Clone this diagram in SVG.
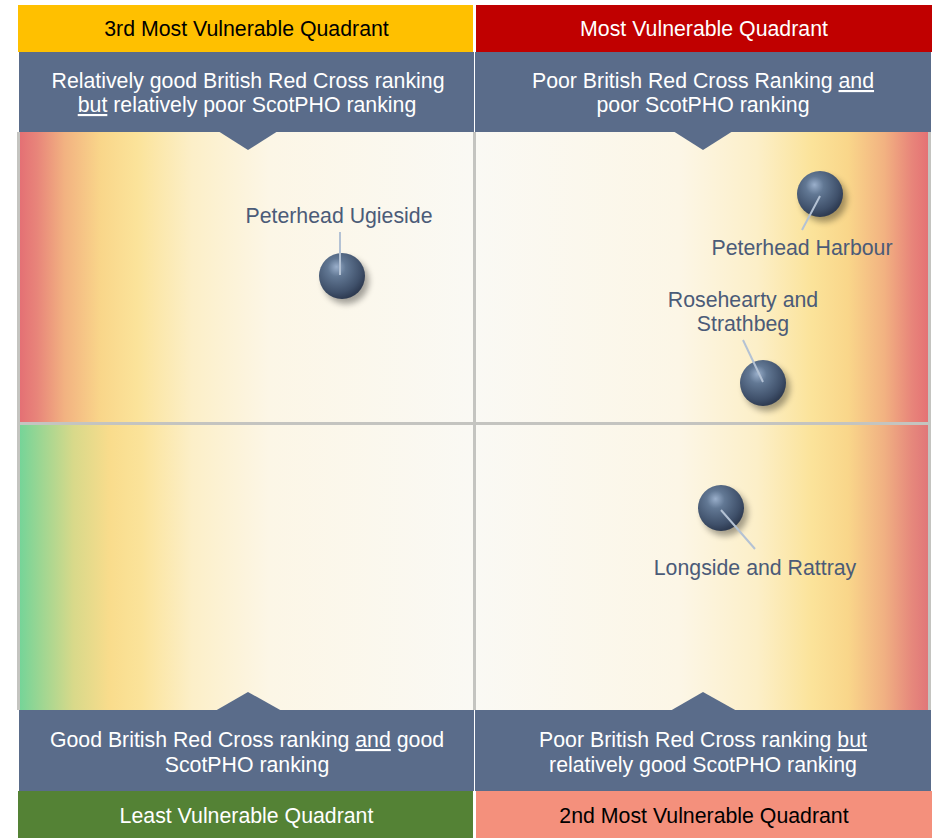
<svg xmlns="http://www.w3.org/2000/svg" width="937" height="838" viewBox="0 0 937 838">
  <style>
    .t { font-family: "Liberation Sans", Arial, sans-serif; font-size: 21.3px; text-anchor: middle; }
    .dark { fill: #000000; }
    .white { fill: #FFFFFF; }
    .lbl { fill: #4B5B78; }
    .band { fill: #5A6C8A; }
    .ptr { stroke: #B4C2D4; stroke-width: 2; fill: none; }
    .grid { stroke: #C4C4C0; stroke-width: 3; fill: none; }
    .u { text-decoration: underline; }
  </style>
  <defs>
    <linearGradient id="gTL" x1="0" y1="0" x2="1" y2="0">
      <stop offset="0" stop-color="#E46F74"/>
      <stop offset="0.04" stop-color="#E8857A"/>
      <stop offset="0.1" stop-color="#F2B281"/>
      <stop offset="0.18" stop-color="#F9D68A"/>
      <stop offset="0.26" stop-color="#FBE39A"/>
      <stop offset="0.38" stop-color="#FCEFC8"/>
      <stop offset="0.55" stop-color="#FCF6E6"/>
      <stop offset="1" stop-color="#FAF9F4"/>
    </linearGradient>
    <linearGradient id="gBL" x1="0" y1="0" x2="1" y2="0">
      <stop offset="0" stop-color="#74D498"/>
      <stop offset="0.05" stop-color="#9ED692"/>
      <stop offset="0.12" stop-color="#D8D98A"/>
      <stop offset="0.2" stop-color="#F9DC8C"/>
      <stop offset="0.27" stop-color="#FBE39A"/>
      <stop offset="0.38" stop-color="#FCEFC8"/>
      <stop offset="0.55" stop-color="#FCF6E6"/>
      <stop offset="1" stop-color="#FAF9F4"/>
    </linearGradient>
    <linearGradient id="gTR" x1="0" y1="0" x2="1" y2="0">
      <stop offset="0" stop-color="#FAF9F4"/>
      <stop offset="0.45" stop-color="#FCF6E6"/>
      <stop offset="0.62" stop-color="#FCEFC8"/>
      <stop offset="0.74" stop-color="#FBE39A"/>
      <stop offset="0.82" stop-color="#F9D68A"/>
      <stop offset="0.9" stop-color="#F2B281"/>
      <stop offset="0.96" stop-color="#E8857A"/>
      <stop offset="1" stop-color="#E46F74"/>
    </linearGradient>
    <linearGradient id="gBR" x1="0" y1="0" x2="1" y2="0">
      <stop offset="0" stop-color="#FAF9F4"/>
      <stop offset="0.45" stop-color="#FCF6E6"/>
      <stop offset="0.62" stop-color="#FCEFC8"/>
      <stop offset="0.74" stop-color="#FBE39A"/>
      <stop offset="0.82" stop-color="#F9D68A"/>
      <stop offset="0.9" stop-color="#F0B082"/>
      <stop offset="0.96" stop-color="#E6887C"/>
      <stop offset="1" stop-color="#E07478"/>
    </linearGradient>
    <radialGradient id="ball" cx="0.4" cy="0.35" r="0.65" fx="0.38" fy="0.3">
      <stop offset="0" stop-color="#9AAFCB"/>
      <stop offset="0.3" stop-color="#627894"/>
      <stop offset="0.8" stop-color="#3F506A"/>
      <stop offset="1" stop-color="#2E3B52"/>
    </radialGradient>
    <filter id="sh" x="-50%" y="-50%" width="200%" height="200%">
      <feGaussianBlur stdDeviation="3"/>
    </filter>
    <symbol id="sphere" overflow="visible">
      <circle cx="4" cy="5" r="23" fill="#000" opacity="0.35" filter="url(#sh)"/>
      <circle cx="0" cy="0" r="23" fill="url(#ball)"/>
    </symbol>
  </defs>

  <rect width="937" height="838" fill="#FFFFFF"/>

  <g id="plot">
    <rect x="19" y="132" width="455" height="292" fill="url(#gTL)"/>
    <rect x="475" y="132" width="455" height="292" fill="url(#gTR)"/>
    <rect x="19" y="424" width="455" height="286" fill="url(#gBL)"/>
    <rect x="475" y="424" width="455" height="286" fill="url(#gBR)"/>
    <line class="grid" x1="18.5" y1="132" x2="18.5" y2="710"/>
    <line class="grid" x1="474.5" y1="132" x2="474.5" y2="710"/>
    <line class="grid" x1="929.5" y1="132" x2="929.5" y2="710"/>
    <line class="grid" x1="18" y1="423.5" x2="931" y2="423.5"/>
  </g>

  <g id="q-top-left">
    <rect x="18" y="5" width="455" height="47" fill="#FFC000"/>
    <rect x="19" y="52" width="455" height="80" class="band"/>
    <polygon points="218,131 278,131 248,150" class="band"/>
    <text class="t dark" x="246.5" y="36">3rd Most Vulnerable Quadrant</text>
    <text class="t white" x="248" y="88">Relatively good British Red Cross ranking</text>
    <text class="t white" x="247" y="112"><tspan class="u">but</tspan> relatively poor ScotPHO ranking</text>
  </g>

  <g id="q-top-right">
    <rect x="476" y="5" width="456" height="47" fill="#C00000"/>
    <rect x="475" y="52" width="456" height="80" class="band"/>
    <polygon points="673,131 733,131 703,150" class="band"/>
    <text class="t white" x="704" y="36">Most Vulnerable Quadrant</text>
    <text class="t white" x="703" y="88">Poor British Red Cross Ranking <tspan class="u">and</tspan></text>
    <text class="t white" x="703" y="112">poor ScotPHO ranking</text>
  </g>

  <g id="q-bottom-left">
    <rect x="19" y="710" width="455" height="81" class="band"/>
    <polygon points="215,711 282,711 248,692" class="band"/>
    <rect x="18" y="791" width="455" height="47" fill="#548235"/>
    <text class="t white" x="247" y="747">Good British Red Cross ranking <tspan class="u">and</tspan> good</text>
    <text class="t white" x="247" y="772">ScotPHO ranking</text>
    <text class="t white" x="246.5" y="823">Least Vulnerable Quadrant</text>
  </g>

  <g id="q-bottom-right">
    <rect x="475" y="710" width="456" height="81" class="band"/>
    <polygon points="670,711 737,711 703,692" class="band"/>
    <rect x="476" y="791" width="456" height="47" fill="#F4907C"/>
    <text class="t white" x="703" y="747">Poor British Red Cross ranking <tspan class="u">but</tspan></text>
    <text class="t white" x="703" y="772">relatively good ScotPHO ranking</text>
    <text class="t dark" x="704" y="823">2nd Most Vulnerable Quadrant</text>
  </g>

  <g id="node-peterhead-ugieside">
    <use href="#sphere" x="342" y="276"/>
    <text class="t lbl" x="339" y="223">Peterhead Ugieside</text>
  </g>
  <g id="node-peterhead-harbour">
    <use href="#sphere" x="820" y="194"/>
    <text class="t lbl" x="802" y="255">Peterhead Harbour</text>
  </g>
  <g id="node-rosehearty">
    <use href="#sphere" x="763" y="383"/>
    <text class="t lbl" x="743" y="307">Rosehearty and</text>
    <text class="t lbl" x="743" y="331">Strathbeg</text>
  </g>
  <g id="node-longside">
    <use href="#sphere" x="721" y="508"/>
    <text class="t lbl" x="755" y="575">Longside and Rattray</text>
  </g>

  <g id="connectors">
    <line class="ptr" x1="340" y1="232" x2="340" y2="275"/>
    <line class="ptr" x1="820" y1="196" x2="802" y2="230"/>
    <line class="ptr" x1="743" y1="340" x2="763" y2="382"/>
    <line class="ptr" x1="721" y1="510" x2="755" y2="549"/>
  </g>
</svg>
